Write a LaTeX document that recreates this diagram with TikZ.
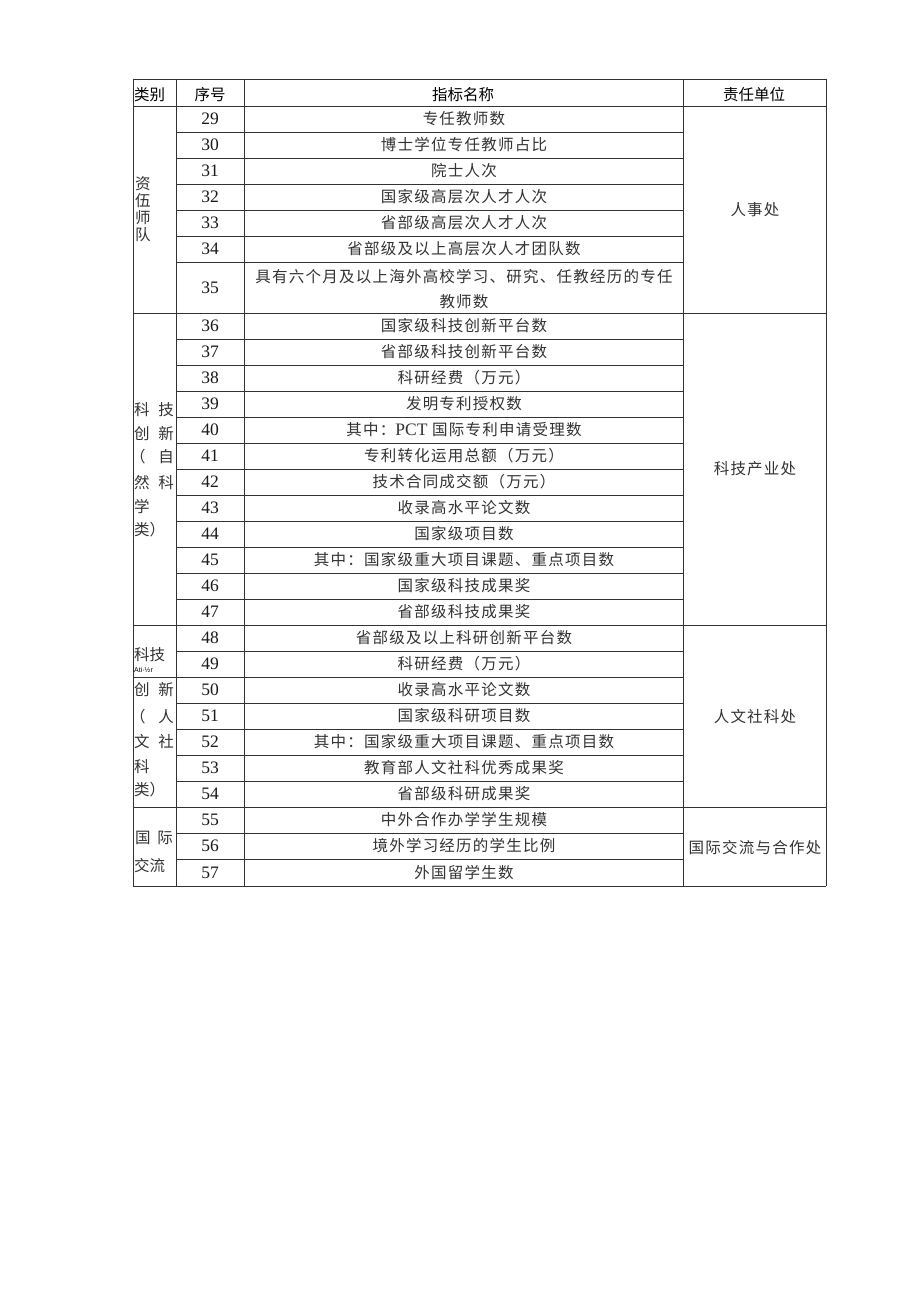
\documentclass[tikz,border=0pt]{standalone}
\usepackage{fontspec}
\setmainfont{Liberation Serif}
\newfontfamily\cjk[LetterSpace=8]{Noto Sans CJK SC}
\newfontfamily\cjkh{Noto Sans CJK SC}
\newfontfamily\garb{Liberation Sans}
\begin{document}
\begin{tikzpicture}[x=1pt,y=-1pt,
  gridline/.style={draw=black!80, line width=0.9pt},
  num/.style={font=\fontsize{17.5}{17.5}\selectfont, text=black!90, inner sep=0pt, anchor=center},
  txt/.style={font=\cjk\fontsize{15.5}{17}\selectfont, text=black!80, inner sep=0pt, anchor=center},
  colone/.style={font=\cjkh\fontsize{15.5}{17}\selectfont, text=black!80, inner sep=0pt},
  hd/.style={font=\cjkh\fontsize{15.5}{15.5}\selectfont, text=black, inner sep=0pt}]
\useasboundingbox[fill=white] (0,0) rectangle (920,1301);

% ---- grid ----
\foreach \xx in {133,176,244,683,826}
  \draw[gridline] (\xx,79) -- (\xx,886);
\foreach \yy in {79,106,313,625,807,886}
  \draw[gridline] (133,\yy) -- (826,\yy);
\draw[gridline] (133,677) -- (176,677);
\foreach \yy in {132,158,184,210,236,262,
                 339,365,391,417,443,469,495,521,547,573,599,
                 651,677,703,729,755,781,
                 833,859}
  \draw[gridline] (176,\yy) -- (683,\yy);

% ---- header ----
\node[hd, anchor=west] (h1) at (134,95) {类别};
\node[hd] (h2) at (210,95) {序号};
\node[hd] (h3) at (463,95) {指标名称};
\node[hd] (h4) at (754,95) {责任单位};

% ---- numbers ----
\foreach \n/\yy in {29/119,30/145,31/171,32/197,33/223,34/249,35/287.5,
  36/326,37/352,38/378,39/404,40/430,41/456,42/482,43/508,44/534,45/560,46/586,47/612,
  48/638,49/664,50/690,51/716,52/742,53/768,54/794,
  55/820,56/846,57/872.5}
  \node[num] (n\n) at (210,\yy) {\n};

% ---- indicator names ----
\node[txt] (t29) at (464,119) {专任教师数};
\node[txt] (t30) at (464,145) {博士学位专任教师占比};
\node[txt] (t31) at (464,171) {院士人次};
\node[txt] (t32) at (464,197) {国家级高层次人才人次};
\node[txt] (t33) at (464,223) {省部级高层次人才人次};
\node[txt] (t34) at (464,249) {省部级及以上高层次人才团队数};
\node[txt] (t35a) at (464,277) {具有六个月及以上海外高校学习、研究、任教经历的专任};
\node[txt] (t35b) at (464,302) {教师数};
\node[txt] (t36) at (464,326) {国家级科技创新平台数};
\node[txt] (t37) at (464,352) {省部级科技创新平台数};
\node[txt] (t38) at (464,378) {科研经费（万元）};
\node[txt] (t39) at (464,404) {发明专利授权数};
\node[txt] (t40) at (464,430) {其中：{\rmfamily\fontsize{17.5}{17.5}\selectfont PCT} 国际专利申请受理数};
\node[txt] (t41) at (464,456) {专利转化运用总额（万元）};
\node[txt] (t42) at (464,482) {技术合同成交额（万元）};
\node[txt] (t43) at (464,508) {收录高水平论文数};
\node[txt] (t44) at (464,534) {国家级项目数};
\node[txt] (t45) at (464,560) {其中：国家级重大项目课题、重点项目数};
\node[txt] (t46) at (464,586) {国家级科技成果奖};
\node[txt] (t47) at (464,612) {省部级科技成果奖};
\node[txt] (t48) at (464,638) {省部级及以上科研创新平台数};
\node[txt] (t49) at (464,664) {科研经费（万元）};
\node[txt] (t50) at (464,690) {收录高水平论文数};
\node[txt] (t51) at (464,716) {国家级科研项目数};
\node[txt] (t52) at (464,742) {其中：国家级重大项目课题、重点项目数};
\node[txt] (t53) at (464,768) {教育部人文社科优秀成果奖};
\node[txt] (t54) at (464,794) {省部级科研成果奖};
\node[txt] (t55) at (464,820) {中外合作办学学生规模};
\node[txt] (t56) at (464,846) {境外学习经历的学生比例};
\node[txt] (t57) at (464,872.5) {外国留学生数};

% ---- responsible units ----
\node[txt] (u1) at (755,210) {人事处};
\node[txt] (u2) at (755,469) {科技产业处};
\node[txt] (u3) at (755,717) {人文社科处};
\node[txt] (u4) at (755,848) {国际交流与合作处};

% ---- categories ----
\node[colone, anchor=west] (c1a) at (135,184) {资};
\node[colone, anchor=west] (c1b) at (135,201) {伍};
\node[colone, anchor=west] (c1c) at (135,218) {师};
\node[colone, anchor=west] (c1d) at (135,235) {队};

\node[colone, anchor=west] (c2a) at (134,410) {科};
\node[colone, anchor=east] (c2b) at (174,410) {技};
\node[colone, anchor=west] (c2c) at (134,434) {创};
\node[colone, anchor=east] (c2d) at (174,434) {新};
\node[colone, anchor=west] (c2e) at (130,457) {（};
\node[colone, anchor=east] (c2f) at (174,457) {自};
\node[colone, anchor=west] (c2g) at (134,483) {然};
\node[colone, anchor=east] (c2h) at (174,483) {科};
\node[colone, anchor=west] (c2i) at (134,507) {学};
\node[colone, anchor=west] (c2j) at (134,530) {类）};

\node[colone, anchor=west] (c3a) at (134,655) {科技};
\node[font=\garb\fontsize{7}{7}\selectfont, text=black, inner sep=0pt, anchor=west] (c3g) at (134,670) {Ati·½r};
\node[colone, anchor=west] (c3b) at (134,690) {创};
\node[colone, anchor=east] (c3c) at (174,690) {新};
\node[colone, anchor=west] (c3d) at (130,717) {（};
\node[colone, anchor=east] (c3e) at (174,717) {人};
\node[colone, anchor=west] (c3f) at (134,742) {文};
\node[colone, anchor=east] (c3h) at (174,742) {社};
\node[colone, anchor=west] (c3i) at (134,767) {科};
\node[colone, anchor=west] (c3j) at (134,790) {类）};

\node[colone, anchor=west] (c4a) at (135,838) {国};
\node[colone, anchor=east] (c4b) at (173,838) {际};
\node[colone, anchor=west] (c4c) at (134,866) {交流};
\end{tikzpicture}
\end{document}
